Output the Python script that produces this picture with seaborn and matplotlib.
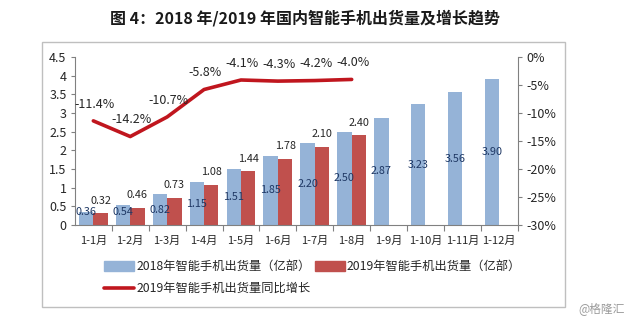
import matplotlib
matplotlib.use("Agg")
import matplotlib.pyplot as plt
import matplotlib.patches as mpatches
import matplotlib.lines as mlines
from matplotlib.ticker import FuncFormatter, MultipleLocator
import numpy as np
import pandas as pd
import seaborn as sns

months = ["1-1月", "1-2月", "1-3月", "1-4月", "1-5月", "1-6月",
          "1-7月", "1-8月", "1-9月", "1-10月", "1-11月", "1-12月"]
ship_2018 = [0.36, 0.54, 0.82, 1.15, 1.51, 1.85, 2.20, 2.50, 2.87, 3.23, 3.56, 3.90]
ship_2019 = [0.32, 0.46, 0.73, 1.08, 1.44, 1.78, 2.10, 2.40]
growth_2019 = [-11.4, -14.2, -10.7, -5.8, -4.1, -4.3, -4.2, -4.0]

label_2018 = "2018年智能手机出货量（亿部）"
label_2019 = "2019年智能手机出货量（亿部）"
label_growth = "2019年智能手机出货量同比增长"
title = "图 4：2018 年/2019 年国内智能手机出货量及增长趋势"

sns.set_theme(style="white")
plt.rcParams["font.family"] = ["Noto Sans CJK SC", "DejaVu Sans"]

c_blue = "#95B3D7"
c_red = "#C0504D"
c_line = "#C0161E"
c_text = "#262626"

df = pd.DataFrame({
    "month": months + months[:len(ship_2019)],
    "value": ship_2018 + ship_2019,
    "series": [label_2018] * len(ship_2018) + [label_2019] * len(ship_2019),
})

fig = plt.figure(figsize=(6.4, 3.23), dpi=100)
ax = fig.add_axes([0.117, 0.3034, 0.692, 0.520])

sns.barplot(data=df, x="month", y="value", hue="series", order=months,
            hue_order=[label_2018, label_2019],
            palette=[c_blue, c_red], width=0.78, ax=ax, legend=False,
            saturation=1, linewidth=0)

ax.set_ylim(0, 4.5)
ax.set_xlim(-0.5, len(months) - 0.5)
ax.yaxis.set_major_locator(MultipleLocator(0.5))
ax.yaxis.set_major_formatter(FuncFormatter(lambda v, p: f"{v:g}"))
ax.set_xlabel("")
ax.set_ylabel("")
ax.tick_params(axis="y", which="major", direction="out", length=3, width=0.8,
               color="#808080", labelsize=9, labelcolor=c_text, pad=3, left=True)
ax.set_xticks(np.arange(len(months)))
ax.set_xticklabels(months)
ax.tick_params(axis="x", which="major", length=0, labelsize=8, labelcolor=c_text, pad=8)
ax.set_xticks(np.arange(len(months)) + 0.5, minor=True)
ax.tick_params(axis="x", which="minor", direction="out", length=4, width=0.8,
               color="#808080", bottom=True)
for s in ["left", "bottom", "right"]:
    ax.spines[s].set_color("#808080")
    ax.spines[s].set_linewidth(0.8)
ax.spines["top"].set_visible(False)

# bar labels
off = 0.78 / 4
for i, v in enumerate(ship_2018):
    ax.text(i - off, max(v / 2, 0.35), f"{v:.2f}", ha="center", va="center",
            fontsize=7.8, color="#1F3864")
for i, v in enumerate(ship_2019):
    ax.annotate(f"{v:.2f}", (i + off, v), xytext=(0, 9), textcoords="offset points",
                ha="center", va="center", fontsize=7.8, color=c_text)

ax2 = ax.twinx()
sns.lineplot(x=np.arange(len(growth_2019)), y=growth_2019, ax=ax2,
             color=c_line, linewidth=2.6)
ax2.set_ylim(-30, 0)
ax2.set_xlim(-0.5, len(months) - 0.5)
ax2.yaxis.set_major_locator(MultipleLocator(5))
ax2.yaxis.set_major_formatter(FuncFormatter(lambda v, p: f"{v:.0f}%"))
ax2.tick_params(axis="y", direction="out", length=3, width=0.8, color="#808080",
                labelsize=9, labelcolor=c_text, pad=3, right=True)
for s in ax2.spines.values():
    s.set_visible(False)
for i, g in enumerate(growth_2019):
    ax2.annotate(f"{g:.1f}%", (i, g), xytext=(1, 12), textcoords="offset points",
                 ha="center", va="center", fontsize=9, color=c_text)

# legend
h_blue = mpatches.Patch(color=c_blue, label=label_2018)
h_red = mpatches.Patch(color=c_red, label=label_2019)
h_line = mlines.Line2D([], [], color=c_line, linewidth=2.6, label=label_growth)
fig.legend(handles=[h_blue, h_line, h_red], ncol=2, loc="upper left",
           bbox_to_anchor=(0.163, 0.195), frameon=False, fontsize=8.8,
           handlelength=2.4, handleheight=0.9, handletextpad=0.2,
           columnspacing=0.4, labelspacing=0.75, borderaxespad=0, borderpad=0)

# outer frame
fig.patches.append(mpatches.Rectangle((0.0656, 0.0495), 0.817, 0.820,
                                      transform=fig.transFigure, fill=False,
                                      edgecolor="#BFBFBF", linewidth=1.0))

fig.text(0.477, 0.945, title, ha="center", va="center", fontsize=11.5,
         fontweight="bold", color="#1a1a1a")
fig.text(0.94, 0.045, "@格隆汇", ha="center", va="center", fontsize=8.5,
         color="#9A9A9A")

fig.savefig("out.png", dpi=100)
